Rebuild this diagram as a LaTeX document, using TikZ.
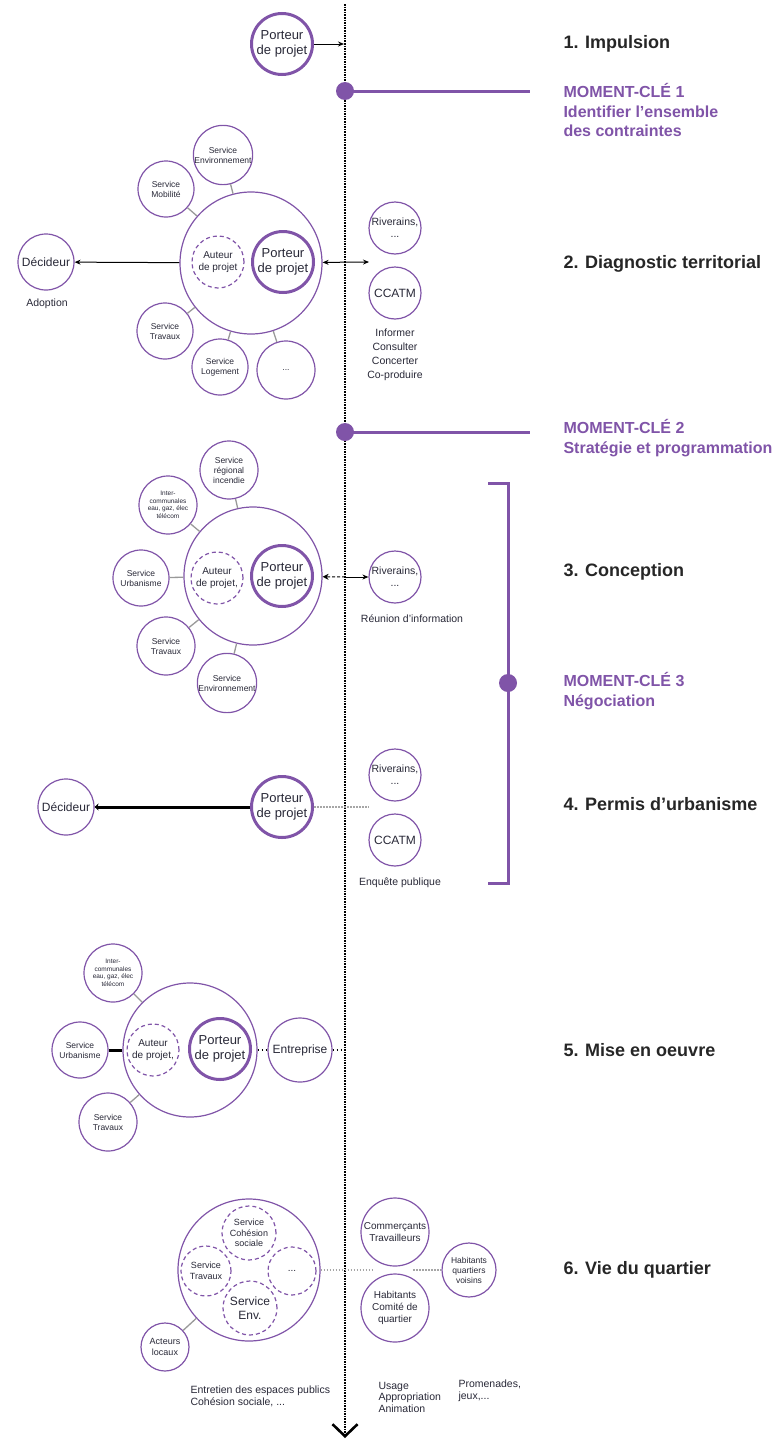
\documentclass[tikz,border=0pt]{standalone}
\usepackage{fontspec}
\setmainfont{Liberation Sans}
\usetikzlibrary{arrows.meta}
\definecolor{mauve}{RGB}{128,84,168}
\definecolor{encre}{RGB}{40,40,55}
\tikzset{
  acteur/.style={circle, draw=mauve, line width=1.2pt, inner sep=0pt, minimum size=56pt, align=center, text=encre, font=\fontsize{8.5}{10}\selectfont},
  petit/.style={font=\fontsize{6.5}{7.5}\selectfont},
  grand/.style={font=\fontsize{12}{14}\selectfont},
  moyen/.style={font=\fontsize{10.5}{12}\selectfont},
  porteur/.style={acteur, line width=3pt, minimum size=61pt, font=\fontsize{13}{14.5}\selectfont},
  auteur/.style={acteur, dash pattern=on 4pt off 3pt, minimum size=52pt, font=\fontsize{10}{11.5}\selectfont},
  groupe/.style={circle, draw=mauve, line width=1.2pt, inner sep=0pt, minimum size=142pt},
  lien/.style={draw=gray!80, line width=1.3pt},
  pointille/.style={draw=gray!70, line width=1.5pt, dash pattern=on 1.5pt off 1.5pt},
  pointnoir/.style={draw=black, line width=1.5pt, dash pattern=on 1.5pt off 2.5pt},
  fleche/.style={line width=1pt, -{Stealth[length=6pt,width=5pt]}},
  phase/.style={anchor=west, text=black!85, font=\fontsize{18}{21}\selectfont\bfseries},
  moment/.style={anchor=west, align=left, text=mauve, font=\fontsize{16}{19.5}\selectfont\bfseries},
  note/.style={align=center, text=encre, font=\fontsize{10.5}{14}\selectfont},
  cle/.style={circle, fill=mauve, inner sep=0pt, minimum size=18pt},
  trait/.style={draw=mauve, line width=3pt},
}
\begin{document}
\begin{tikzpicture}[x=1pt,y=-1pt]
    \useasboundingbox (0,0) rectangle (784,1440);
    \coordinate (haut) at (345,4);
    \coordinate (bas) at (345,1438);
    \draw[line width=2.6pt, dash pattern=on 1.6pt off 1pt, -{Straight Barb[length=12pt,width=25pt,line width=2.6pt]}] (haut) -- (bas);

    \node[porteur] (port1) at (282,44) {Porteur\\de projet};
    \coordinate (t1) at (344,44);
    \draw[fleche] (port1) -- (t1);
    \node[phase] (ph1) at (560,44) {1. Impulsion};

    \node[cle] (cle1) at (345,91) {};
    \coordinate (fin1) at (530,91);
    \draw[trait] (cle1.center) -- (fin1);
    \node[moment] (mc1) at (560,110) {MOMENT-CLÉ 1\\Identifier l’ensemble\\des contraintes};

    \node[groupe] (g2) at (251,263) {};
    \node[auteur] (aut2) at (218,262) {Auteur\\de projet};
    \node[porteur] (port2) at (283,262) {Porteur\\de projet};
    \node[acteur] (env2) at (223,155) {Service\\Environnement};
    \node[acteur] (mob2) at (166,189) {Service\\Mobilité};
    \node[acteur] (trav2) at (165,331) {Service\\Travaux};
    \node[acteur] (log2) at (220,367) {Service\\Logement};
    \node[acteur, minimum size=58pt] (etc2) at (286,370) {...};
    \foreach \s in {env2,mob2,trav2,log2,etc2}
        \draw[lien] (\s) -- (g2);
    \node[acteur, grand] (dec2) at (46,262) {Décideur};
    \draw[fleche] (g2) -- (dec2);
    \node[acteur, moyen, minimum size=52pt] (riv2) at (395,228) {Riverains,\\...};
    \node[acteur, grand, minimum size=52pt] (ccatm2) at (395,293) {CCATM};
    \coordinate (x2) at (369,262);
    \draw[line width=1pt, {Stealth[length=6pt,width=5pt]}-{Stealth[length=6pt,width=5pt]}] (g2) -- (x2);
    \node[note] (adopt2) at (47,304) {Adoption};
    \node[note] (info2) at (395,355) {Informer\\Consulter\\Concerter\\Co-produire};
    \node[phase] (ph2) at (560,264) {2. Diagnostic territorial};

    \node[cle] (cle2) at (345,432) {};
    \coordinate (fin2) at (530,432);
    \draw[trait] (cle2.center) -- (fin2);
    \node[moment] (mc2) at (560,438) {MOMENT-CLÉ 2\\Stratégie et programmation};

    \node[groupe, minimum size=138pt] (g3) at (253,576) {};
    \node[auteur] (aut3) at (217,578) {Auteur\\de projet,};
    \node[porteur] (port3) at (282,576) {Porteur\\de projet};
    \node[acteur, minimum size=58pt] (inc3) at (229,470) {Service\\régional\\incendie};
    \node[acteur, petit, minimum size=58pt] (inter3) at (168,505) {Inter-\\communales\\eau, gaz, élec\\télécom};
    \node[acteur] (urb3) at (141,578) {Service\\Urbanisme};
    \node[acteur, minimum size=58pt] (trav3) at (166,646) {Service\\Travaux};
    \node[acteur, minimum size=58pt] (env3) at (227,683) {Service\\Environnement};
    \foreach \s in {inc3,inter3,urb3,trav3,env3}
        \draw[lien] (\s) -- (g3);
    \node[acteur, moyen, minimum size=52pt] (riv3) at (395,577) {Riverains,\\...};
    \coordinate (t3) at (345,577);
    \draw[line width=1pt, dash pattern=on 3pt off 2pt, -{Stealth[open,length=6pt,width=6pt]}] (t3) -- (g3);
    \draw[fleche] (t3) -- (riv3);
    \node[note] (reu3) at (412,619) {Réunion d’information};
    \node[phase] (ph3) at (560,572) {3. Conception};

    \coordinate (b1) at (488,483);
    \coordinate (b2) at (508,483);
    \coordinate (b3) at (508,883);
    \coordinate (b4) at (488,883);
    \draw[trait] (b1) -- (b2) -- (b3) -- (b4);
    \node[cle] (cle3) at (508,683) {};
    \node[moment] (mc3) at (560,691) {MOMENT-CLÉ 3\\Négociation};

    \node[acteur, grand] (dec4) at (66,807) {Décideur};
    \node[porteur] (port4) at (282,807) {Porteur\\de projet};
    \draw[line width=3pt, -{Stealth[length=4pt,width=7pt]}] (port4) -- (dec4);
    \node[acteur, moyen, minimum size=52pt] (riv4) at (395,775) {Riverains,\\...};
    \node[acteur, grand, minimum size=52pt] (ccatm4) at (395,840) {CCATM};
    \coordinate (x4) at (369,807);
    \draw[pointille] (port4) -- (x4);
    \node[note] (enq4) at (400,883) {Enquête publique};
    \node[phase] (ph4) at (560,804) {4. Permis d’urbanisme};

    \node[groupe, minimum size=134pt] (g5) at (190,1050) {};
    \node[auteur] (aut5) at (153,1050) {Auteur\\de projet,};
    \node[porteur] (port5) at (220,1049) {Porteur\\de projet};
    \node[acteur, petit, minimum size=58pt] (inter5) at (113,973) {Inter-\\communales\\eau, gaz, élec\\télécom};
    \node[acteur] (urb5) at (80,1050) {Service\\Urbanisme};
    \node[acteur, minimum size=58pt] (trav5) at (108,1122) {Service\\Travaux};
    \node[acteur, grand, minimum size=64pt] (ent5) at (300,1050) {Entreprise};
    \coordinate (t5) at (345,1050);
    \draw[line width=3pt] (urb5) -- (g5);
    \draw[lien] (inter5) -- (g5);
    \draw[lien] (trav5) -- (g5);
    \draw[pointnoir] (g5) -- (ent5);
    \draw[pointnoir] (ent5) -- (t5);
    \node[phase] (ph5) at (560,1050) {5. Mise en oeuvre};

    \node[groupe] (g6) at (249,1270) {};
    \node[auteur, font=\fontsize{9}{10.5}\selectfont, minimum size=54pt] (coh6) at (249,1233) {Service\\Cohésion\\sociale};
    \node[auteur, font=\fontsize{9}{10.5}\selectfont, minimum size=50pt] (trav6) at (206,1271) {Service\\Travaux};
    \node[auteur, minimum size=48pt] (etc6) at (292,1271) {...};
    \node[auteur, grand, minimum size=54pt] (env6) at (250,1308) {Service\\Env.};
    \node[acteur, font=\fontsize{9}{10.5}\selectfont, minimum size=48pt] (act6) at (165,1347) {Acteurs\\locaux};
    \draw[lien] (act6) -- (g6);
    \node[acteur, font=\fontsize{10}{12}\selectfont, minimum size=68pt] (com6) at (395,1232) {Commerçants\\Travailleurs};
    \node[acteur, font=\fontsize{10}{12}\selectfont, minimum size=68pt] (hab6) at (395,1308) {Habitants\\Comité de\\quartier};
    \node[acteur, minimum size=54pt] (vois6) at (469,1270) {Habitants\\quartiers\\voisins};
    \coordinate (x6a) at (374,1270);
    \coordinate (x6b) at (413,1270);
    \draw[pointille] (g6) -- (x6a);
    \draw[pointille] (x6b) -- (vois6);
    \node[note, anchor=west, align=left, font=\fontsize{10.5}{12}\selectfont] (ent6) at (187,1396) {Entretien des espaces publics\\Cohésion sociale, ...};
    \node[note, anchor=west, align=left, font=\fontsize{10.5}{11.5}\selectfont] (usa6) at (375,1397) {Usage\\Appropriation\\Animation};
    \node[note, anchor=west, align=left, font=\fontsize{10.5}{11.5}\selectfont] (pro6) at (455,1391) {Promenades,\\jeux,...};
    \node[phase] (ph6) at (560,1270) {6. Vie du quartier};
\end{tikzpicture}
\end{document}
